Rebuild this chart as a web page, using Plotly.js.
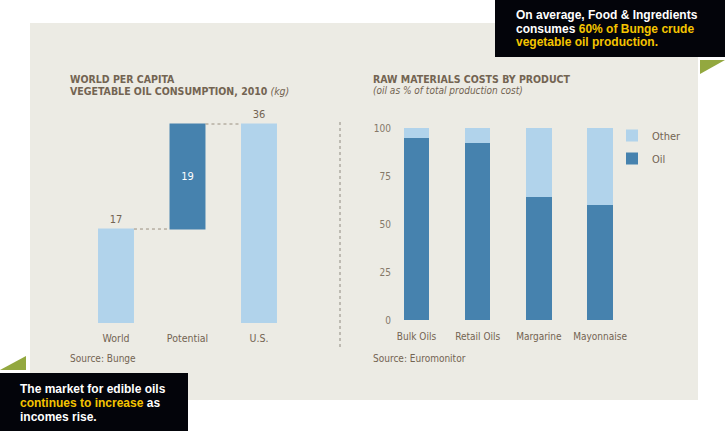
<!DOCTYPE html>
<html>
<head>
<meta charset="utf-8">
<script src="https://cdn.plot.ly/plotly-3.0.1.min.js"></script>
<style>html,body{margin:0;padding:0;background:#fff;}#chart{width:725px;height:431px;}</style>
</head>
<body>
<div id="chart"></div>
<script>
// ---- Data ----
const consumptionCategories = ['World', 'Potential', 'U.S.'];
const consumptionValues = [17, 19, 36];
const consumptionMeasures = ['absolute', 'relative', 'total'];

const productCategories = ['Bulk Oils', 'Retail Oils', 'Margarine', 'Mayonnaise'];
const oilShare = [95, 92, 64, 60];
const otherShare = [5, 8, 36, 40];
const shareTicks = [0, 25, 50, 75, 100];

// ---- Styling ----
const W = 725, H = 431;
const fx = x => x / W;
const fy = y => 1 - y / H;
const LIGHT = '#b1d3eb';
const DARK = '#4682ae';
const BROWN = '#736452';
const BG = '#ecebe4';
const FONT = 'DejaVu Sans Condensed, DejaVu Sans, sans-serif';
const BOXFONT = 'Liberation Sans, Arial, sans-serif';
const YELLOW = '#f5c400';
const GREEN = '#93a83f';

const traces = [
  {
    type: 'waterfall',
    x: consumptionCategories,
    y: consumptionValues,
    measure: consumptionMeasures,
    text: consumptionValues.map(String),
    textposition: ['outside', 'inside', 'outside'],
    insidetextanchor: 'middle',
    textangle: 0,
    outsidetextfont: {family: FONT, size: 11, color: BROWN},
    insidetextfont: {family: FONT, size: 11, color: '#ffffff'},
    increasing: {marker: {color: DARK}},
    decreasing: {marker: {color: DARK}},
    totals: {marker: {color: LIGHT}},
    connector: {mode: 'between', line: {color: '#9a9080', width: 1, dash: 'dot'}},
    cliponaxis: false,
    showlegend: false,
    hoverinfo: 'skip',
    xaxis: 'x', yaxis: 'y'
  },
  {
    type: 'bar',
    name: 'Oil',
    x: productCategories,
    y: oilShare,
    marker: {color: DARK},
    legendgroup: 'oil',
    legendrank: 2,
    xaxis: 'x2', yaxis: 'y2',
    hoverinfo: 'skip'
  },
  {
    type: 'bar',
    name: 'Other',
    x: productCategories,
    y: otherShare,
    marker: {color: LIGHT},
    legendgroup: 'other',
    legendrank: 1,
    xaxis: 'x2', yaxis: 'y2',
    hoverinfo: 'skip'
  }
];

function ann(text, x, y, opts) {
  return Object.assign({
    text: text, x: fx(x), y: fy(y), xref: 'paper', yref: 'paper',
    xanchor: 'left', yanchor: 'middle', showarrow: false, align: 'left',
    font: {family: FONT, size: 10, color: BROWN}
  }, opts || {});
}
const y1 = s => '<span style="color:' + YELLOW + '">' + s + '</span>';
const boxFont = {family: BOXFONT, size: 12, color: '#ffffff', weight: 'bold'};

const layout = {
  width: W, height: H,
  margin: {l: 0, r: 0, t: 0, b: 0},
  paper_bgcolor: '#ffffff',
  plot_bgcolor: 'rgba(0,0,0,0)',
  font: {family: FONT, size: 10, color: BROWN},
  barmode: 'stack',
  bargap: 0.583,
  waterfallgap: 0.497,
  showlegend: true,
  legend: {
    x: fx(612), y: fy(121), xanchor: 'left', yanchor: 'top',
    traceorder: 'grouped', tracegroupgap: 4,
    bgcolor: 'rgba(0,0,0,0)',
    font: {family: FONT, size: 11, color: BROWN},
    itemclick: false, itemdoubleclick: false
  },
  xaxis: {
    domain: [fx(80.25), fx(294.75)], anchor: 'y',
    showgrid: false, zeroline: false, showline: false, ticks: '',
    ticklabelstandoff: 7,
    tickfont: {family: FONT, size: 10.5, color: BROWN},
    fixedrange: true
  },
  yaxis: {
    domain: [fy(323), fy(101.9)], anchor: 'x', range: [0, 40],
    visible: false, fixedrange: true
  },
  xaxis2: {
    domain: [fx(392), fx(630.7)], anchor: 'y2', range: [-0.4, 3.5],
    showgrid: false, zeroline: false, showline: false, ticks: '',
    ticklabelstandoff: 9,
    tickfont: {family: FONT, size: 10, color: BROWN},
    fixedrange: true
  },
  yaxis2: {
    domain: [fy(320), fy(128)], anchor: 'x2', range: [0, 100],
    tickvals: shareTicks, showgrid: false, zeroline: false, showline: false, ticks: '',
    tickfont: {family: FONT, size: 10, color: '#857868'},
    fixedrange: true
  },
  shapes: [
    {type: 'rect', xref: 'paper', yref: 'paper', x0: fx(30), x1: fx(698), y0: fy(400), y1: fy(23), fillcolor: BG, line: {width: 0}, layer: 'below'},
    {type: 'rect', xref: 'paper', yref: 'paper', x0: fx(495), x1: fx(725), y0: fy(57), y1: fy(0), fillcolor: '#03040a', line: {width: 0}},
    {type: 'rect', xref: 'paper', yref: 'paper', x0: fx(0), x1: fx(188), y0: fy(431), y1: fy(373), fillcolor: '#03040a', line: {width: 0}},
    {type: 'path', xref: 'paper', yref: 'paper',
     path: 'M' + fx(700) + ',' + fy(60) + ' L' + fx(725) + ',' + fy(60) + ' L' + fx(700) + ',' + fy(74) + ' Z',
     fillcolor: GREEN, line: {width: 0}},
    {type: 'path', xref: 'paper', yref: 'paper',
     path: 'M' + fx(0) + ',' + fy(370) + ' L' + fx(26) + ',' + fy(370) + ' L' + fx(26) + ',' + fy(356) + ' Z',
     fillcolor: GREEN, line: {width: 0}},
    {type: 'line', xref: 'paper', yref: 'paper', x0: fx(340), x1: fx(340), y0: fy(347), y1: fy(122),
     line: {color: '#8f8a80', width: 1, dash: 'dot'}}
  ],
  annotations: [
    ann('<b>WORLD PER CAPITA</b>', 68, 79, {font: {family: FONT, size: 10.5, color: BROWN}}),
    ann('<b>VEGETABLE OIL CONSUMPTION, 2010</b> <i>(kg)</i>', 68, 91, {font: {family: FONT, size: 10.5, color: BROWN}}),
    ann('<b>RAW MATERIALS COSTS BY PRODUCT</b>', 371, 79, {font: {family: FONT, size: 10.5, color: BROWN}}),
    ann('<i>(oil as % of total production cost)</i>', 371, 91),
    ann('Source: Bunge', 68, 358),
    ann('Source: Euromonitor', 371, 358),
    ann('On average, Food &amp; Ingredients', 514, 15, {font: boxFont}),
    ann('consumes ' + y1('60% of Bunge crude'), 514, 28.5, {font: boxFont}),
    ann(y1('vegetable oil production.'), 514, 42, {font: boxFont}),
    ann('The market for edible oils', 18, 389, {font: boxFont}),
    ann(y1('continues to increase') + ' as', 18, 403, {font: boxFont}),
    ann('incomes rise.', 18, 417, {font: boxFont})
  ]
};

Plotly.newPlot('chart', traces, layout, {staticPlot: true, displayModeBar: false});
</script>
</body>
</html>
